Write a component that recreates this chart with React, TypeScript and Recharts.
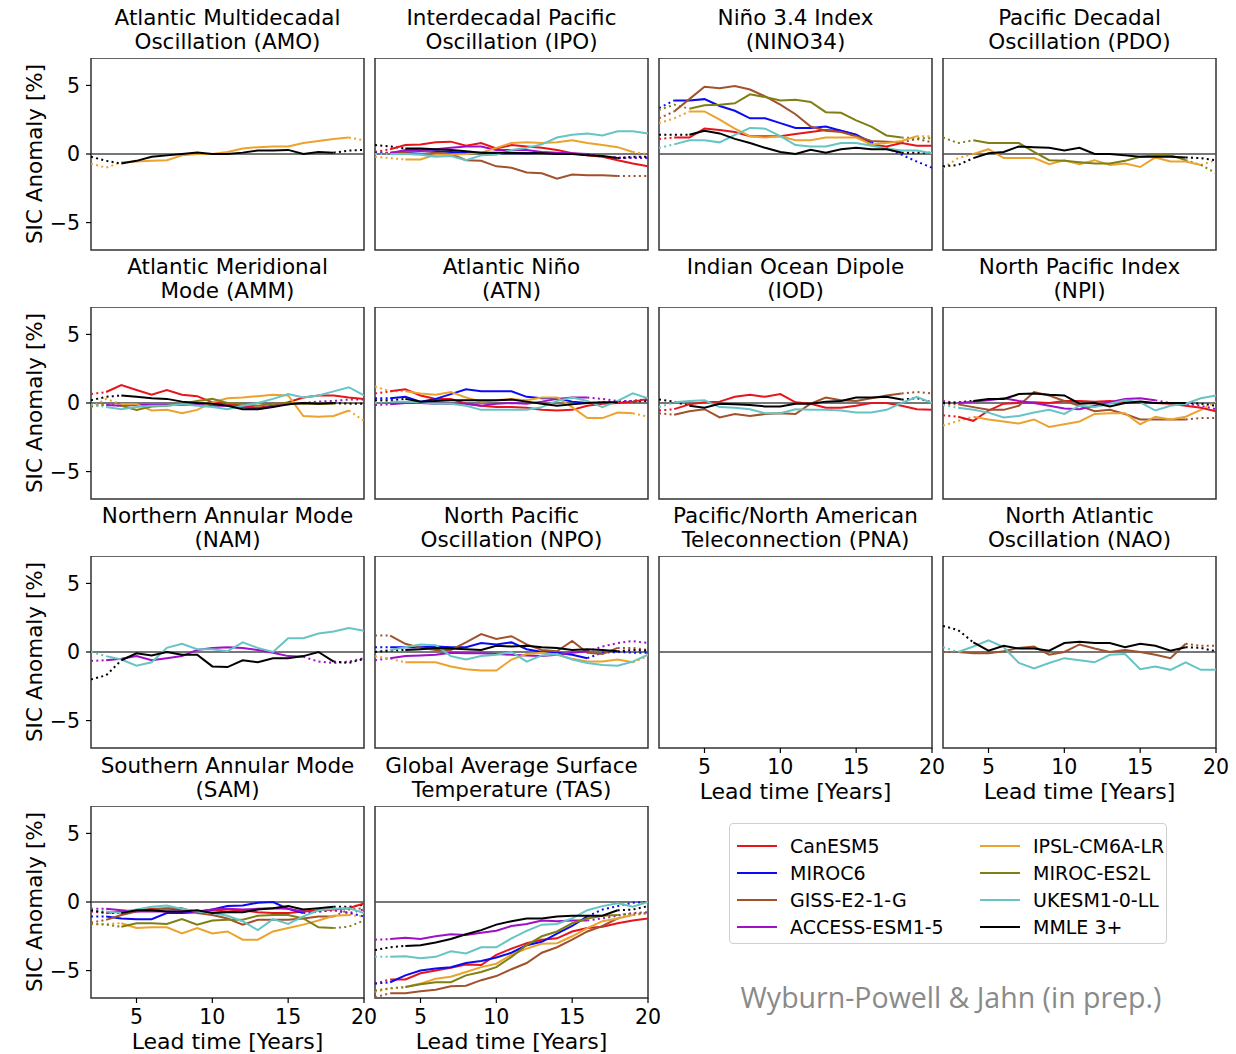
import { LineChart, Line, XAxis, YAxis, ReferenceLine, ReferenceArea } from 'recharts';

// lead years 2..20
const years = [2, 3, 4, 5, 6, 7, 8, 9, 10, 11, 12, 13, 14, 15, 16, 17, 18, 19, 20];

// model order, colours and the lead-year span drawn solid (outside it: dotted)
const modelIds = ['can', 'miroc6', 'giss', 'access', 'ipsl', 'es2l', 'ukesm', 'mmle'];
const modelNames = ['CanESM5', 'MIROC6', 'GISS-E2-1-G', 'ACCESS-ESM1-5', 'IPSL-CM6A-LR', 'MIROC-ES2L', 'UKESM1-0-LL', 'MMLE 3+'];
const modelColors = ['#e8141c', '#0a0af5', '#a0522d', '#a010c8', '#eba32e', '#7f7f14', '#66c4c4', '#000000'];
const solidFrom = [3, 3, 3, 3, 4, 4, 3, 4];
const solidTo = [20, 16, 18, 16, 19, 18, 20, 18];

type Series = Record<string, number[]>;

const amo: Series = {
  ipsl: [-0.7, -1.0, -0.6, -0.55, -0.5, -0.45, -0.1, 0, 0, 0.15, 0.4, 0.5, 0.55, 0.55, 0.8, 0.95, 1.1, 1.2, 1.0],
  mmle: [-0.2, -0.5, -0.7, -0.5, -0.2, -0.1, 0, 0.1, 0, 0, 0.1, 0.25, 0.25, 0.3, 0, 0.15, 0.1, 0.25, 0.3],
};

const ipo: Series = {
  can: [0.15, 0.35, 0.65, 0.7, 0.85, 0.9, 0.6, 0.8, 0.4, 0.65, 0.55, 0.45, 0.3, 0.05, -0.1, -0.2, -0.45, -0.7, -0.9],
  miroc6: [0.1, 0.1, 0.15, 0.2, 0.2, 0.15, 0.1, 0.1, 0.05, 0.05, 0.05, 0.1, 0.05, 0, 0, -0.2, -0.3, -0.3, -0.3],
  giss: [0, 0.1, 0.15, 0.25, 0.1, 0, -0.45, -0.5, -0.9, -1.0, -1.35, -1.4, -1.8, -1.5, -1.55, -1.55, -1.6, -1.6, -1.6],
  access: [0, 0.05, 0.3, 0.3, 0.35, 0.45, 0.55, 0.55, 0.3, 0.3, 0.3, 0.15, 0.1, 0.05, 0, -0.2, -0.25, -0.25, -0.25],
  ipsl: [-0.2, -0.3, -0.4, -0.4, -0.05, -0.05, 0, 0.1, 0.45, 0.8, 0.85, 0.8, 0.85, 1.0, 0.8, 0.65, 0.5, 0.15, 0],
  ukesm: [0, 0, 0, -0.05, -0.2, -0.15, -0.45, -0.1, -0.05, 0.3, 0.45, 0.7, 1.2, 1.4, 1.5, 1.35, 1.65, 1.65, 1.5],
  mmle: [0.65, 0.55, 0.4, 0.4, 0.35, 0.3, 0.2, 0.1, 0.1, 0.1, 0.05, 0.05, 0, 0, -0.1, -0.15, -0.3, -0.2, -0.2],
};

const nino34: Series = {
  can: [1.1, 1.2, 1.2, 1.85, 1.75, 1.6, 1.3, 1.3, 1.3, 1.45, 1.6, 1.75, 1.7, 1.4, 0.65, 0.55, 0.8, 0.6, 0.6],
  miroc6: [3.35, 3.9, 3.9, 4.0, 3.5, 3.15, 2.6, 2.6, 2.25, 1.9, 1.9, 2.0, 1.7, 1.4, 0.85, 0.45, -0.05, -0.55, -1.0],
  giss: [2.6, 3.1, 4.0, 4.9, 4.8, 4.95, 4.7, 4.2, 3.6, 2.9, 2.0, 1.7, 1.6, 1.3, 0.95, 0.9, 0.85, 1.1, 0.85],
  ipsl: [2.25, 2.6, 3.1, 3.1, 2.5, 1.85, 1.3, 1.2, 1.3, 1.0, 1.0, 1.2, 1.2, 1.2, 0.7, 0.8, 0.95, 1.3, 1.3],
  es2l: [3.2, 3.6, 3.3, 3.55, 3.6, 3.7, 4.35, 4.15, 3.9, 3.95, 3.8, 3.05, 3.0, 2.45, 2.0, 1.35, 1.2, 1.15, 1.15],
  ukesm: [0.45, 0.7, 1.0, 1.0, 0.85, 1.4, 1.9, 1.85, 1.3, 0.65, 0.55, 0.55, 0.8, 0.8, 0.6, 0.4, 0.25, 0.25, 0.05],
  mmle: [1.4, 1.4, 1.4, 1.7, 1.5, 1.1, 0.8, 0.45, 0.15, 0, 0.3, 0.1, 0.35, 0.45, 0.35, 0.35, 0.1, 0.1, 0.1],
};

const pdo: Series = {
  ipsl: [-1.0, -0.3, 0, 0.35, -0.3, -0.3, -0.3, -0.75, -0.45, -0.75, -0.45, -0.8, -0.7, -0.95, -0.25, -0.55, -0.55, -0.8, -0.45],
  es2l: [1.2, 0.8, 1.0, 0.8, 0.8, 0.8, 0.15, -0.45, -0.5, -0.6, -0.7, -0.7, -0.5, -0.2, -0.1, -0.1, -0.45, -0.8, -1.4],
  mmle: [-0.9, -0.8, -0.3, 0.05, 0.15, 0.55, 0.5, 0.45, 0.25, 0.45, 0, 0, -0.1, -0.2, -0.2, -0.2, -0.25, -0.3, -0.45],
};

const amm: Series = {
  can: [0.65, 0.8, 1.3, 0.95, 0.6, 0.95, 0.6, 0.5, 0.05, -0.05, -0.2, -0.35, -0.2, 0.05, 0.4, 0.55, 0.55, 0.4, 0.3],
  access: [-0.15, -0.15, -0.2, -0.15, -0.15, -0.15, -0.15, -0.15, -0.2, -0.2, -0.3, -0.45, -0.2, -0.1, 0, 0.1, 0.15, 0.25, 0.25],
  ipsl: [-0.3, 0.3, -0.1, -0.1, -0.55, -0.5, -0.75, -0.5, 0.05, 0.35, 0.4, 0.5, 0.6, 0.55, -0.95, -1.0, -0.95, -0.55, -1.3],
  es2l: [-0.25, -0.1, -0.2, -0.5, -0.25, -0.2, -0.05, 0.15, 0.3, 0, -0.05, -0.2, -0.05, 0, -0.05, -0.05, -0.05, 0, 0],
  ukesm: [-0.1, -0.3, -0.45, -0.3, -0.2, -0.2, -0.1, -0.2, -0.3, -0.45, -0.2, 0, 0.3, 0.65, 0.4, 0.55, 0.85, 1.15, 0.55],
  mmle: [0.2, 0.45, 0.55, 0.45, 0.35, 0.3, 0.1, 0, -0.05, -0.2, -0.45, -0.45, -0.3, -0.1, 0, -0.05, 0, -0.05, -0.05],
};

const atn: Series = {
  can: [0.7, 0.85, 1.0, 0.55, 0.3, 0.3, -0.05, -0.2, -0.3, -0.3, -0.35, -0.5, -0.55, -0.5, -0.2, -0.05, 0, 0.1, 0.3],
  miroc6: [0.35, 0.35, 0.45, 0.1, 0.3, 0.65, 1.0, 0.85, 0.85, 0.85, 0.45, 0.35, 0.35, 0.1, 0, 0.05, 0.1, 0.15, 0.25],
  access: [-0.15, -0.1, 0, 0, -0.05, -0.05, -0.05, -0.2, -0.05, 0, -0.05, 0.1, 0.3, 0.4, 0.4, 0.3, 0.15, 0.15, 0.3],
  ipsl: [1.2, 0.85, 0.85, 0.7, 0.6, 0.8, 0.4, 0.1, 0.2, 0.3, 0.2, 0.4, 0.4, -0.3, -1.1, -1.1, -0.7, -0.75, -1.0],
  ukesm: [0, 0.1, 0.1, 0.05, -0.05, -0.05, -0.2, -0.5, -0.5, -0.5, -0.5, -0.3, 0.15, 0.4, 0.15, -0.3, 0.15, 0.7, 0.35],
  mmle: [0.2, 0.2, 0.3, 0.1, 0.15, 0.2, 0.2, 0.2, 0.2, 0.25, 0.1, -0.05, -0.2, -0.1, 0, 0.05, 0.05, 0.1, 0.15],
};

const iod: Series = {
  can: [-0.55, -0.45, -0.1, 0.05, 0.1, 0.45, 0.6, 0.45, 0.65, 0.05, -0.05, -0.35, -0.35, -0.2, 0, 0, -0.2, -0.45, -0.5],
  giss: [-0.75, -0.85, -0.6, -0.45, -1.05, -0.8, -0.95, -0.8, -0.75, -0.8, -0.05, 0.4, 0.2, 0.15, 0.35, 0.55, 0.7, 0.8, 0.7],
  ukesm: [-0.3, 0.05, 0.15, 0.2, -0.3, -0.35, -0.45, -0.75, -0.75, -0.45, -0.5, -0.5, -0.55, -0.7, -0.7, -0.5, 0, 0.45, 0],
  mmle: [0.25, 0.1, -0.2, -0.35, -0.05, -0.1, -0.15, -0.25, -0.25, -0.05, -0.05, 0.1, 0.15, 0.4, 0.4, 0.45, 0.25, 0.35, 0.05],
};

const npi: Series = {
  can: [-0.9, -1.0, -1.3, -0.55, -0.05, 0, 0.05, 0, 0.15, 0.15, 0.1, 0.15, 0.05, 0, 0, -0.05, -0.2, -0.35, -0.6],
  giss: [-0.05, -0.1, -0.3, -0.5, -0.5, -0.2, 0.8, 0.55, 0.15, -0.2, -0.6, -0.5, -0.8, -1.2, -1.2, -1.2, -1.2, -1.1, -1.1],
  access: [0.15, 0, 0.1, 0.2, 0.35, 0.15, 0, -0.2, -0.4, -0.45, -0.2, 0.05, 0.3, 0.35, 0.2, 0, -0.05, -0.2, -0.45],
  ipsl: [-1.65, -1.3, -1.0, -1.2, -1.35, -1.5, -1.2, -1.75, -1.55, -1.35, -0.8, -0.75, -0.75, -1.55, -1.0, -1.2, -1.0, -0.5, 0.1],
  ukesm: [-0.15, -0.35, -0.5, -0.7, -1.05, -0.95, -0.7, -0.5, -0.8, -0.2, -0.3, -0.05, 0.2, 0.05, -0.55, -0.2, -0.05, 0.35, 0.55],
  mmle: [0, 0.05, 0.15, 0.3, 0.3, 0.65, 0.7, 0.6, 0.55, -0.05, 0, -0.25, 0, 0.1, 0, 0, 0, -0.05, -0.2],
};

const nam: Series = {
  access: [-0.65, -0.6, -0.5, -0.3, -0.6, -0.45, -0.3, 0.15, 0.3, 0.35, 0.3, 0.15, -0.05, -0.3, -0.35, -0.7, -0.8, -0.7, -0.45],
  ukesm: [0, -0.3, -0.55, -1.0, -0.75, 0.3, 0.6, 0.2, 0.2, 0.05, 0.7, 0.3, 0, 1.0, 1.0, 1.35, 1.5, 1.75, 1.55],
  mmle: [-2.0, -1.7, -0.6, -0.1, -0.25, 0, -0.2, -0.2, -1.05, -1.1, -0.6, -0.75, -0.45, -0.45, -0.3, 0, -0.7, -0.8, -0.5],
};

const npo: Series = {
  miroc6: [0.35, 0.35, 0.35, 0.35, 0.4, 0.35, 0.35, 0.65, 0.55, 0.7, 0.2, 0, -0.05, -0.2, -0.45, -0.05, 0, -0.05, -0.05],
  giss: [1.2, 1.2, 0.6, 0.3, 0.15, 0.15, 0.7, 1.3, 0.95, 1.15, 0.55, 0.15, 0.05, 0.8, -0.05, -0.15, 0.3, 0.3, 0.15],
  access: [-0.6, -0.45, -0.3, -0.25, -0.2, -0.05, -0.1, -0.1, -0.15, -0.2, -0.25, -0.3, -0.2, -0.05, 0.05, 0.4, 0.65, 0.8, 0.65],
  ipsl: [-0.3, -0.5, -0.75, -0.75, -0.75, -1.05, -1.25, -1.35, -1.35, -0.55, -0.15, -0.05, -0.2, -0.5, -0.7, -0.7, -0.55, -0.75, -0.3],
  ukesm: [0, 0.15, 0.35, 0.55, 0.5, -0.3, -0.55, -0.3, -0.2, 0, -0.7, -0.25, -0.15, -0.55, -0.8, -0.95, -1.0, -0.7, -0.2],
  mmle: [0, 0.1, 0.15, 0.2, 0.3, 0.25, 0.2, 0.15, 0.45, 0.4, 0.45, 0.35, 0.3, 0.15, 0.2, 0.15, 0.05, 0.15, 0.1],
};

const pna: Series = {};

const nao: Series = {
  giss: [0, 0, -0.1, -0.1, 0.05, 0.3, 0.4, -0.2, 0, 0.55, 0.25, 0, 0.15, 0, -0.2, -0.45, 0.6, 0.45, 0.45],
  ukesm: [0.35, 0, 0.4, 0.85, 0.35, -0.8, -1.2, -0.8, -0.45, -0.6, -0.75, -0.2, -0.15, -1.25, -1.05, -1.3, -0.75, -1.3, -1.3],
  mmle: [1.9, 1.6, 0.7, 0.1, 0.45, 0.25, 0.25, 0.1, 0.65, 0.75, 0.65, 0.65, 0.35, 0.6, 0.45, 0.1, 0.35, 0.3, 0.05],
};

const sam: Series = {
  can: [-0.7, -0.8, -0.7, -0.6, -0.5, -0.5, -0.55, -0.7, -0.6, -0.7, -0.6, -0.75, -0.8, -0.8, -0.7, -0.6, -0.55, -0.45, -0.1],
  miroc6: [-1.05, -1.05, -1.2, -1.25, -1.25, -0.8, -0.8, -0.75, -0.55, -0.3, -0.25, -0.05, 0, -0.5, -0.8, -0.7, -0.6, -0.8, -1.05],
  giss: [-1.5, -1.3, -0.95, -0.7, -0.55, -0.45, -0.45, -0.8, -0.95, -1.2, -1.65, -1.3, -1.3, -1.3, -1.2, -1.05, -1.05, -0.55, -0.45],
  access: [-0.5, -0.5, -0.6, -0.7, -0.7, -0.7, -0.7, -0.7, -0.55, -0.5, -0.55, -0.5, -0.45, -0.5, -0.7, -0.7, -0.55, -0.8, -0.55],
  ipsl: [-1.6, -1.6, -1.55, -1.9, -1.85, -1.85, -2.3, -1.9, -2.3, -2.15, -2.75, -2.75, -2.15, -1.9, -1.65, -1.35, -1.0, -0.95, -1.05],
  es2l: [-1.6, -1.65, -1.8, -1.55, -1.55, -1.6, -1.25, -1.65, -1.35, -1.3, -1.3, -1.0, -0.95, -0.95, -1.2, -1.85, -1.9, -1.8, -1.35],
  ukesm: [-0.55, -0.7, -0.8, -0.55, -0.35, -0.25, -0.5, -0.7, -0.8, -1.0, -1.4, -2.05, -1.25, -1.6, -1.05, -0.6, -0.5, -0.45, -0.8],
  mmle: [-0.6, -0.8, -0.8, -0.6, -0.6, -0.7, -0.7, -0.6, -0.8, -0.75, -0.75, -0.55, -0.45, -0.3, -0.55, -0.45, -0.35, -0.35, -0.2],
};

const tas: Series = {
  can: [-5.95, -5.65, -5.65, -5.2, -5.0, -4.8, -4.55, -4.6, -3.85, -3.4, -3.0, -2.75, -2.65, -2.15, -1.9, -1.8, -1.55, -1.35, -1.2],
  miroc6: [-5.95, -5.85, -5.35, -5.0, -4.85, -4.75, -4.45, -4.3, -4.05, -3.7, -3.15, -2.9, -2.3, -1.75, -1.05, -0.55, -0.3, -0.05, 0],
  giss: [-6.95, -6.65, -6.65, -6.5, -6.4, -6.15, -6.1, -5.7, -5.4, -4.9, -4.45, -3.7, -3.3, -2.75, -2.15, -1.75, -1.2, -0.95, -0.8],
  access: [-2.75, -2.7, -2.6, -2.7, -2.5, -2.35, -2.4, -2.25, -2.1, -1.75, -1.6, -1.35, -1.4, -1.35, -1.35, -1.2, -1.0, -0.8, -0.75],
  ipsl: [-6.55, -6.3, -6.2, -5.95, -5.6, -5.45, -5.1, -4.75, -4.5, -3.85, -3.4, -3.05, -3.0, -2.5, -1.9, -1.4, -1.2, -0.95, -0.8],
  es2l: [-6.45, -6.3, -6.2, -6.0, -5.85, -5.85, -5.35, -5.1, -4.75, -4.0, -3.15, -2.5, -2.15, -1.55, -1.2, -1.0, -0.95, -0.85, -0.8],
  ukesm: [-4.0, -4.0, -3.95, -4.1, -4.0, -3.6, -3.75, -3.3, -3.3, -2.65, -2.1, -1.65, -1.6, -1.2, -0.6, -0.3, -0.1, -0.35, 0],
  mmle: [-3.5, -3.3, -3.2, -3.15, -2.95, -2.7, -2.35, -2.05, -1.65, -1.4, -1.2, -1.2, -1.05, -1.0, -1.0, -1.0, -0.6, -0.55, -0.3],
};

const panels = [
  { t1: 'Atlantic Multidecadal', t2: 'Oscillation (AMO)', data: amo },
  { t1: 'Interdecadal Pacific', t2: 'Oscillation (IPO)', data: ipo },
  { t1: 'Niño 3.4 Index', t2: '(NINO34)', data: nino34 },
  { t1: 'Pacific Decadal', t2: 'Oscillation (PDO)', data: pdo },
  { t1: 'Atlantic Meridional', t2: 'Mode (AMM)', data: amm },
  { t1: 'Atlantic Niño', t2: '(ATN)', data: atn },
  { t1: 'Indian Ocean Dipole', t2: '(IOD)', data: iod },
  { t1: 'North Pacific Index', t2: '(NPI)', data: npi },
  { t1: 'Northern Annular Mode', t2: '(NAM)', data: nam },
  { t1: 'North Pacific', t2: 'Oscillation (NPO)', data: npo },
  { t1: 'Pacific/North American', t2: 'Teleconnection (PNA)', data: pna },
  { t1: 'North Atlantic', t2: 'Oscillation (NAO)', data: nao },
  { t1: 'Southern Annular Mode', t2: '(SAM)', data: sam },
  { t1: 'Global Average Surface', t2: 'Temperature (TAS)', data: tas },
];

const FONT = '"DejaVu Sans", sans-serif';
const colLeft = [91, 375, 659, 943];
const rowTop = [58, 307, 556, 806];
const PW = 273;
const PH = 192;
const YW = 50;
const XH = 50;

const fmt = (v: number) => (v < 0 ? `\u2212${-v}` : `${v}`);

function buildRows(series: Series) {
  return years.map((yr, i) => {
    const row: Record<string, number | null> = { year: yr };
    modelIds.forEach((id, m) => {
      const vals = series[id];
      if (!vals) return;
      const v = vals[i];
      const s = solidFrom[m];
      const e = solidTo[m];
      row[id + '_s'] = yr >= s && yr <= e ? v : null;
      row[id + '_d'] = yr <= s || (e < 20 && yr >= e) ? v : null;
    });
    return row;
  });
}

function Panel({ idx }: { idx: number }) {
  const p = panels[idx];
  const col = idx % 4;
  const row = Math.floor(idx / 4);
  const left = colLeft[col];
  const top = rowTop[row];
  const showX = (row === 2 && col >= 2) || row === 3;
  const showY = col === 0;
  const rows = buildRows(p.data);
  const present = modelIds.filter((id) => p.data[id]);
  const tickStyle = { fontSize: 20.5, fill: '#000', fontFamily: FONT };

  return (
    <>
      <div
        style={{
          position: 'absolute', left: left - 40, top: top - 52, width: PW + 80,
          textAlign: 'center', fontFamily: FONT, fontSize: 21.5, lineHeight: '24px', color: '#000',
        }}
      >
        <div>{p.t1}</div>
        <div>{p.t2}</div>
      </div>
      <div style={{ position: 'absolute', left: left - YW, top }}>
        <LineChart
          width={YW + PW + 15}
          height={PH + XH}
          data={rows}
          margin={{ top: 0, right: 15, bottom: 0, left: 0 }}
          style={{ overflow: 'visible' }}
        >
          <XAxis
            dataKey="year"
            type="number"
            domain={[2, 20]}
            ticks={[5, 10, 15, 20]}
            allowDataOverflow
            height={XH}
            axisLine={false}
            tick={showX ? tickStyle : false}
            tickLine={showX ? { stroke: '#000', strokeWidth: 1.2 } : false}
            tickSize={5}
            tickMargin={6}
          />
          <YAxis
            type="number"
            domain={[-7, 7]}
            ticks={[-5, 0, 5]}
            allowDataOverflow
            width={YW}
            axisLine={false}
            tick={showY ? tickStyle : false}
            tickLine={showY ? { stroke: '#000', strokeWidth: 1.2 } : false}
            tickFormatter={fmt}
            tickSize={5}
            tickMargin={6}
          />
          <ReferenceLine y={0} stroke="#4a4a4a" strokeWidth={1.5} />
          {present.map((id) => {
            const m = modelIds.indexOf(id);
            return (
              <Line
                key={id + 'd'}
                dataKey={id + '_d'}
                type="linear"
                stroke={modelColors[m]}
                strokeWidth={2}
                strokeDasharray="2 3.3"
                dot={false}
                activeDot={false}
                isAnimationActive={false}
              />
            );
          })}
          {present.map((id) => {
            const m = modelIds.indexOf(id);
            return (
              <Line
                key={id + 's'}
                dataKey={id + '_s'}
                type="linear"
                stroke={modelColors[m]}
                strokeWidth={2}
                dot={false}
                activeDot={false}
                isAnimationActive={false}
              />
            );
          })}
          <ReferenceArea
            x1={2}
            x2={20}
            y1={-7}
            y2={7}
            fill="none"
            stroke="#333"
            strokeWidth={1.5}
            fillOpacity={0}
            ifOverflow="visible"
          />
        </LineChart>
      </div>
      {showY && (
        <div
          style={{
            position: 'absolute', left: 35 - 110, top: top + PH / 2 - 12, width: 220, height: 24,
            transform: 'rotate(-90deg)', textAlign: 'center', fontFamily: FONT, fontSize: 21.5, lineHeight: '24px',
          }}
        >
          SIC Anomaly [%]
        </div>
      )}
      {showX && (
        <div
          style={{
            position: 'absolute', left: left - 20, top: top + PH + 32, width: PW + 40,
            textAlign: 'center', fontFamily: FONT, fontSize: 22, lineHeight: '24px',
          }}
        >
          Lead time [Years]
        </div>
      )}
    </>
  );
}

function Legend() {
  const cols = [0, 1];
  return (
    <div
      style={{
        position: 'absolute', left: 729, top: 823, width: 438, height: 121, boxSizing: 'border-box',
        border: '1px solid #d0d0d0', borderRadius: 4, background: '#fff', fontFamily: FONT, fontSize: 19,
      }}
    >
      {cols.map((c) =>
        [0, 1, 2, 3].map((r) => {
          const m = c * 4 + r;
          return (
            <div
              key={m}
              style={{ position: 'absolute', left: c === 0 ? 7 : 250, top: 8 + r * 27.3, height: 27, display: 'flex', alignItems: 'center', whiteSpace: 'nowrap' }}
            >
              <div style={{ width: 40, height: 2, background: modelColors[m], marginRight: 13 }} />
              <span>{modelNames[m]}</span>
            </div>
          );
        })
      )}
    </div>
  );
}

export default function App() {
  return (
    <div style={{ position: 'absolute', left: 0, top: 0, width: 1236, height: 1054, background: '#fff' }}>
      {panels.map((_, i) => (
        <Panel key={i} idx={i} />
      ))}
      <Legend />
      <div
        style={{
          position: 'absolute', left: 680, top: 978, width: 542, textAlign: 'center',
          fontFamily: '"Open Sans", sans-serif', fontSize: 28.5, color: '#8a8a8a',
        }}
      >
        Wyburn-Powell &amp; Jahn (in prep.)
      </div>
    </div>
  );
}
